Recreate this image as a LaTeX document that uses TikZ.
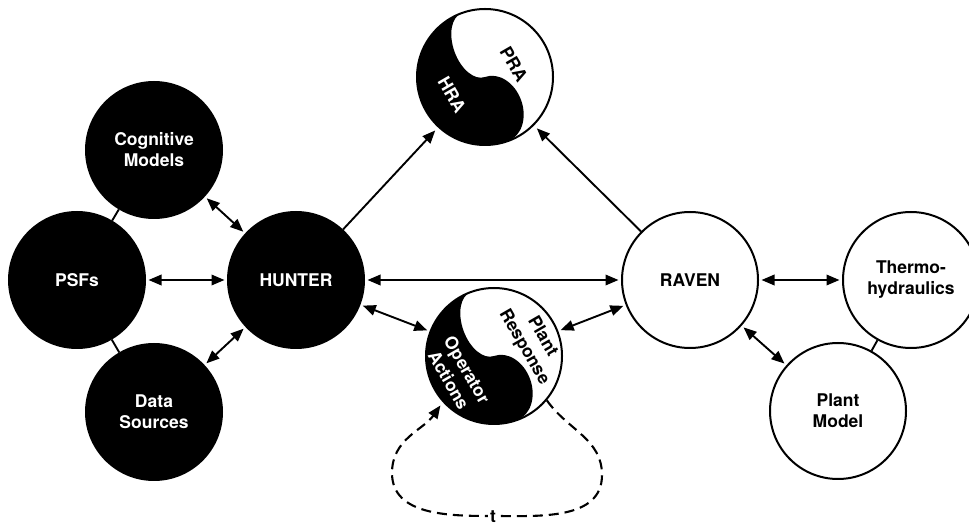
\documentclass[tikz,border=0pt]{standalone}
\usepackage{fontspec}
\setmainfont{TeX Gyre Heros}
\usetikzlibrary{arrows.meta}
\begin{document}
\begin{tikzpicture}[x=1pt,y=1pt,
  every node/.style={font=\fontsize{17.5}{21}\selectfont\bfseries, align=center},
  blk/.style={circle, draw=black, fill=black, text=white, line width=2pt, minimum size=136pt, inner sep=0pt},
  wht/.style={circle, draw=black, fill=white, text=black, line width=2pt, minimum size=136pt, inner sep=0pt},
  yy/.style={circle, draw=black, line width=2pt, minimum size=136pt, inner sep=0pt},
  yytext/.style={rotate=-60, inner sep=0pt},
  conn/.style={line width=1.9pt},
  bi/.style={conn, {Triangle[length=13pt,width=10.5pt]}-{Triangle[length=13pt,width=10.5pt]}, shorten <=2.5pt, shorten >=2.5pt},
  uni/.style={conn, -{Triangle[length=13pt,width=10.5pt]}, shorten >=4pt},
  loopline/.style={line width=2.1pt, dash pattern=on 10pt off 6pt, -{Triangle[length=13pt,width=10.5pt]}, shorten >=4pt},
]
\useasboundingbox (0,0) rectangle (969,522);

% black circles
\node[blk] (cog) at (154,372) {Cognitive\\Models};
\node[blk] (psf) at (77,242) {PSFs};
\node[blk] (data) at (154,110) {Data\\Sources};
\node[blk] (hunter) at (296,242) {HUNTER};

% white circles
\node[wht] (raven) at (690,242) {RAVEN};
\node[wht] (thermo) at (911,242) {Thermo-\\hydraulics};
\node[wht] (plant) at (838,111) {Plant\\Model};

% PRA / HRA yin-yang
\begin{scope}[shift={(485,445)}, rotate=20]
  \fill (0,68) arc[start angle=90,end angle=270,radius=68]
        arc[start angle=270,end angle=450,x radius=26,y radius=34]
        arc[start angle=270,end angle=90,x radius=20,y radius=34] -- cycle;
\end{scope}
\node[yytext, text=black] (pratext) at (514,458) {PRA};
\node[yytext, text=white] (hratext) at (452,427) {HRA};
\node[yy] (pra) at (485,445) {};

% Plant Response / Operator Actions yin-yang
\begin{scope}[shift={(494,166)}, rotate=20]
  \fill (0,68) arc[start angle=90,end angle=270,radius=68]
        arc[start angle=270,end angle=450,x radius=26,y radius=34]
        arc[start angle=270,end angle=90,x radius=20,y radius=34] -- cycle;
\end{scope}
\node[yytext, text=black] (prtext) at (533,180) {Plant\\Response};
\node[yytext, text=white] (oatext) at (458,147) {Operator\\Actions};
\node[yy] (op) at (494,166) {};

% plain links
\draw[conn] (cog) -- (psf);
\draw[conn] (psf) -- (data);
\draw[conn] (thermo) -- (plant);

% arrows
\draw[bi] (cog) -- (hunter);
\draw[bi] (psf) -- (hunter);
\draw[bi] (data) -- (hunter);
\draw[uni] (hunter) -- (pra);
\draw[uni] (raven) -- (pra);
\draw[bi] (hunter) -- (raven);
\draw[bi] (hunter) -- (op);
\draw[bi] (raven) -- (op);
\draw[bi] (raven) -- (thermo);
\draw[bi] (raven) -- (plant);

% time loop
\coordinate (r1) at (602,47);
\coordinate (b1) at (493,6);
\coordinate (l1) at (392,49);
\draw[loopline] (op.-40) to[out=-55,in=90] (r1) to[out=-90,in=0] (b1)
   to[out=180,in=-90] (l1) to[out=90,in=-125] (op.222);
\node[fill=white, inner sep=2pt] (tlabel) at (493,5) {t};
\end{tikzpicture}
\end{document}
